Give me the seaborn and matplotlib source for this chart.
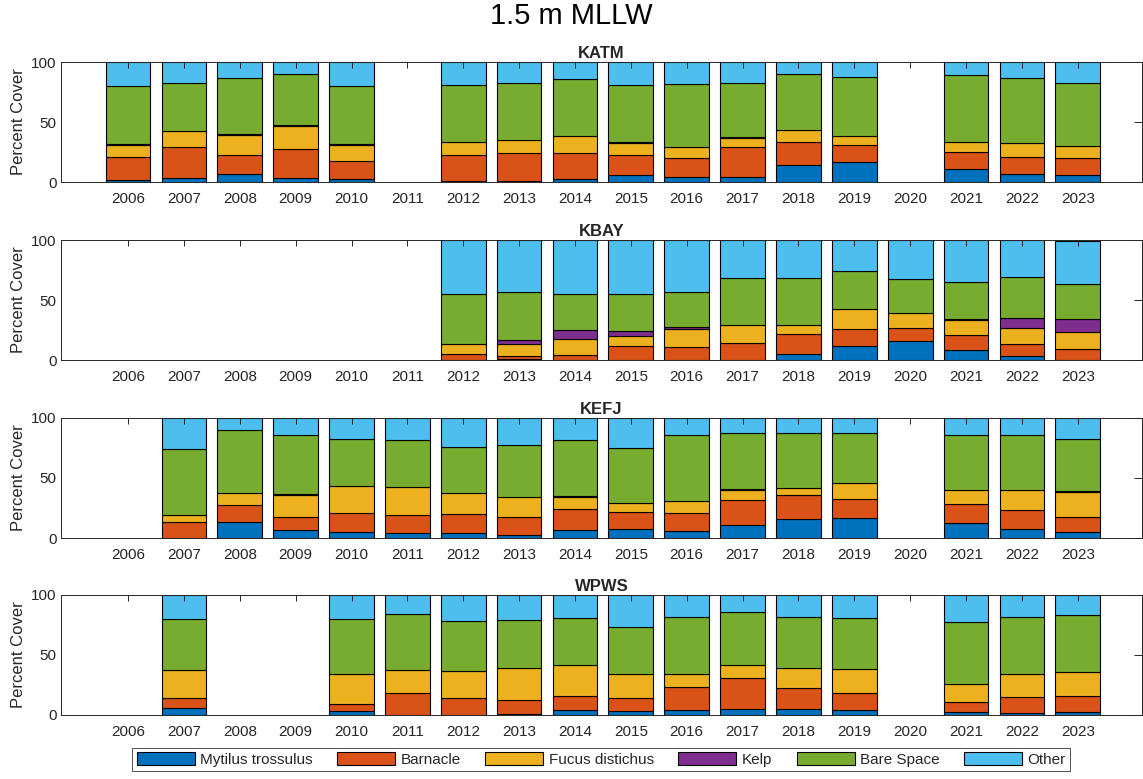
import numpy as np
import pandas as pd
import matplotlib
matplotlib.use("Agg")
import matplotlib.pyplot as plt
import seaborn as sns
from matplotlib.patches import Patch

sns.set_theme(style="white")
plt.rcParams['font.family'] = ['Liberation Sans', 'DejaVu Sans']

YEARS = list(range(2006, 2024))
SITES = ['KATM', 'KBAY', 'KEFJ', 'WPWS']
TAXA = ['Mytilus trossulus', 'Barnacle', 'Fucus distichus', 'Kelp', 'Bare Space', 'Other']
COLORS = ['#0072BD', '#D95319', '#EDB120', '#7E2F8E', '#77AC30', '#4DBEEE']
N = None

# percent cover per taxon, 2006..2023 (None = not sampled)
KATM_MYTILUS = [1.7, 3.6, 6.7, 3.4, 2.2, N, 0.5, 0.5, 2.8, 5.6, 3.9, 4.5, 14.0, 16.8, N, 10.9, 6.7, 5.6]
KATM_BARNACLE = [19.3, 25.4, 15.6, 24.0, 15.7, N, 22.4, 23.5, 21.2, 17.3, 15.9, 24.5, 19.2, 14.2, N, 14.2, 14.0, 14.2]
KATM_FUCUS = [9.7, 13.5, 17.1, 19.0, 12.8, N, 10.6, 11.2, 14.5, 9.8, 9.2, 7.3, 10.4, 7.3, N, 8.4, 11.7, 10.1]
KATM_KELP = [0.8, 0.0, 0.8, 0.8, 0.8, N, 0.0, 0.0, 0.0, 0.8, 0.0, 0.8, 0.0, 0.0, N, 0.0, 0.0, 0.0]
KATM_BARE = [48.1, 39.9, 46.1, 42.5, 48.1, N, 47.2, 47.2, 47.3, 47.2, 52.8, 45.6, 46.1, 49.4, N, 55.3, 54.2, 52.5]
KATM_OTHER = [20.4, 17.6, 13.7, 10.3, 20.4, N, 19.3, 17.6, 14.2, 19.3, 18.2, 17.3, 10.3, 12.3, N, 11.2, 13.4, 17.6]

KBAY_MYTILUS = [N, N, N, N, N, N, 0.0, 0.5, 0.0, 0.0, 0.0, 0.0, 5.3, 11.4, 16.1, 8.0, 3.3, 0.0]
KBAY_BARNACLE = [N, N, N, N, N, N, 5.3, 2.5, 4.4, 11.6, 10.5, 14.4, 16.6, 14.6, 10.5, 12.5, 10.0, 9.4]
KBAY_FUCUS = [N, N, N, N, N, N, 8.0, 10.3, 12.8, 8.6, 15.0, 15.0, 7.5, 16.7, 12.5, 12.5, 13.0, 13.9]
KBAY_KELP = [N, N, N, N, N, N, 0.0, 3.0, 7.7, 3.6, 1.9, 0.0, 0.0, 0.0, 0.0, 0.8, 8.6, 10.5]
KBAY_BARE = [N, N, N, N, N, N, 42.1, 40.7, 30.5, 31.6, 29.1, 38.7, 39.0, 31.8, 28.2, 31.6, 34.6, 29.6]
KBAY_OTHER = [N, N, N, N, N, N, 44.6, 43.0, 44.6, 44.6, 43.5, 31.9, 31.6, 25.5, 32.7, 34.6, 30.5, 35.8]

KEFJ_MYTILUS = [N, 0.0, 13.1, 6.7, 4.7, 3.9, 3.9, 2.5, 6.7, 7.8, 5.8, 10.9, 16.2, 17.0, N, 12.8, 7.8, 4.7]
KEFJ_BARNACLE = [N, 13.6, 14.5, 11.1, 16.5, 15.6, 16.4, 14.8, 17.8, 14.2, 15.4, 20.6, 19.5, 15.3, N, 15.6, 15.6, 13.1]
KEFJ_FUCUS = [N, 5.3, 9.7, 18.4, 22.5, 23.1, 17.0, 17.2, 9.5, 7.2, 9.7, 8.9, 5.8, 13.7, N, 11.7, 16.2, 20.6]
KEFJ_KELP = [N, 0.0, 0.0, 0.8, 0.0, 0.0, 0.0, 0.0, 0.8, 0.0, 0.0, 0.8, 0.0, 0.0, N, 0.0, 0.0, 0.8]
KEFJ_BARE = [N, 54.9, 52.7, 48.8, 39.0, 39.0, 38.5, 42.9, 46.8, 45.5, 54.9, 46.5, 46.2, 41.7, N, 45.7, 46.2, 43.5]
KEFJ_OTHER = [N, 26.2, 10.0, 14.2, 17.3, 18.4, 24.2, 22.6, 18.4, 25.3, 14.2, 12.3, 12.3, 12.3, N, 14.2, 14.2, 17.3]

WPWS_MYTILUS = [N, 5.8, N, N, 3.1, 0.0, 0.0, 0.8, 3.9, 3.3, 3.9, 5.0, 4.7, 3.9, N, 2.2, 1.7, 2.8]
WPWS_BARNACLE = [N, 8.4, N, N, 6.3, 18.3, 14.2, 12.0, 11.9, 10.9, 19.7, 25.6, 17.8, 14.4, N, 8.6, 13.3, 13.3]
WPWS_FUCUS = [N, 23.3, N, N, 25.0, 19.2, 22.5, 26.6, 25.9, 20.0, 10.8, 11.1, 16.9, 20.0, N, 15.0, 19.4, 19.7]
WPWS_KELP = [N, 0.0, N, N, 0.0, 0.0, 0.0, 0.0, 0.0, 0.0, 0.0, 0.0, 0.0, 0.0, N, 0.0, 0.0, 0.0]
WPWS_BARE = [N, 42.2, N, N, 45.3, 46.9, 41.9, 39.5, 38.9, 39.1, 47.0, 43.9, 42.3, 42.3, N, 51.4, 47.3, 47.8]
WPWS_OTHER = [N, 20.3, N, N, 20.3, 15.6, 21.4, 21.1, 19.4, 26.7, 18.6, 14.4, 18.3, 19.4, N, 22.8, 18.3, 16.4]

site_data = {
    'KATM': [KATM_MYTILUS, KATM_BARNACLE, KATM_FUCUS, KATM_KELP, KATM_BARE, KATM_OTHER],
    'KBAY': [KBAY_MYTILUS, KBAY_BARNACLE, KBAY_FUCUS, KBAY_KELP, KBAY_BARE, KBAY_OTHER],
    'KEFJ': [KEFJ_MYTILUS, KEFJ_BARNACLE, KEFJ_FUCUS, KEFJ_KELP, KEFJ_BARE, KEFJ_OTHER],
    'WPWS': [WPWS_MYTILUS, WPWS_BARNACLE, WPWS_FUCUS, WPWS_KELP, WPWS_BARE, WPWS_OTHER],
}

rows = []
for site, series in site_data.items():
    for taxon, values in zip(TAXA, series):
        for year, v in zip(YEARS, values):
            if v is not None:
                rows.append({'Site': site, 'Year': year, 'Taxon': taxon, 'Cover': v})
df = pd.DataFrame(rows)

palette = dict(zip(TAXA, COLORS))
axis_col = '#262626'

fig = plt.figure(figsize=(11.43, 7.79), dpi=100)
tops = [62, 240, 418, 595]
height_px = 120

for site, top in zip(SITES, tops):
    ax = fig.add_axes([61 / 1143, 1 - (top + height_px) / 779, 1081 / 1143, height_px / 779])
    sub = df[df['Site'] == site]
    # seaborn stacks the last hue level at the bottom
    sns.histplot(data=sub, x='Year', weights='Cover', hue='Taxon', hue_order=TAXA[::-1],
                 palette=palette, multiple='stack', discrete=True, shrink=0.8,
                 edgecolor='black', linewidth=0.8, alpha=1, legend=False, ax=ax)
    # empty years give zero-height bars; hide them
    for p in ax.patches:
        if p.get_height() == 0:
            p.set_visible(False)
    ax.set_xlim(2004.8, 2024.15)
    ax.set_ylim(0, 100)
    ax.set_xticks(YEARS)
    ax.set_yticks([0, 50, 100])
    ax.set_xlabel('')
    ax.set_ylabel('Percent Cover', fontsize=12, color=axis_col)
    ax.set_title(site, fontsize=12, fontweight='bold', pad=3)
    ax.set_axisbelow(False)
    ax.tick_params(axis='both', direction='in', top=True, right=True,
                   labelsize=11, colors=axis_col, width=0.7)
    ax.tick_params(axis='x', length=4.5, pad=7)
    ax.tick_params(axis='y', length=6, pad=3)
    for s in ax.spines.values():
        s.set_color(axis_col)
        s.set_linewidth(0.7)

fig.suptitle('1.5 m MLLW', fontsize=21, y=0.997, color='black')

handles = [Patch(facecolor=c, edgecolor='black', linewidth=0.8) for c in COLORS]
leg = fig.legend(handles, TAXA, loc='lower center', bbox_to_anchor=(0.526, 0.0), ncol=6,
                 fontsize=11, handlelength=3.8, handleheight=0.9, handletextpad=0.35,
                 columnspacing=1.6, frameon=True, fancybox=False, borderpad=0.3)
leg.get_frame().set_edgecolor(axis_col)
leg.get_frame().set_linewidth(0.7)

fig.savefig('out.png', dpi=100)
